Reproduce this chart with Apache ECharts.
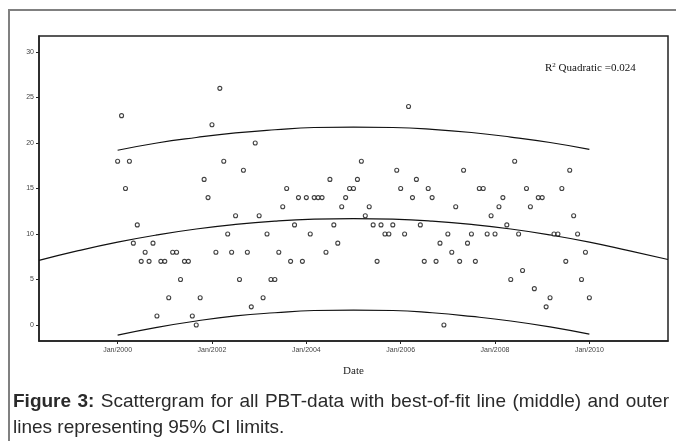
<!DOCTYPE html>
<html>
<head>
<meta charset="utf-8">
<script src="https://cdn.jsdelivr.net/npm/echarts@6/dist/echarts.min.js"></script>
<style>
  html, body { margin: 0; padding: 0; background: #fff; }
  #wrap { position: relative; width: 676px; height: 441px; overflow: hidden; }
  #frame {
    position: absolute; left: 8px; top: 9px; width: 700px; height: 500px;
    border-left: 2px solid #808080; border-top: 2px solid #808080;
  }
  #chart { position: absolute; left: 0; top: 0; width: 676px; height: 441px; }
  #caption {
    position: absolute; left: 13px; top: 388px; width: 656px;
    font-family: "Liberation Sans", Arial, sans-serif; font-size: 19px;
    line-height: 26px; color: #2a2a2a;
  }
  #caption .l1 { text-align: justify; text-align-last: justify; white-space: nowrap; }
</style>
</head>
<body>
<div id="wrap">
  <div id="frame"></div>
  <div id="chart"></div>
  <div id="caption">
    <div class="l1"><b>Figure 3:</b> Scattergram for all PBT-data with best-of-fit line (middle) and outer</div>
    <div>lines representing 95% CI limits.</div>
  </div>
</div>
<script>
// monthly PBT values, Jan/2000 .. Jan/2010 (x = months since Jan/2000)
var pbt = [
  18, 23, 15, 18, 9, 11, 7, 8, 7, 9, 1, 7,        // 2000
  7, 3, 8, 8, 5, 7, 7, 1, 0, 3, 16, 14,           // 2001
  22, 8, 26, 18, 10, 8, 12, 5, 17, 8, 2, 20,      // 2002
  12, 3, 10, 5, 5, 8, 13, 15, 7, 11, 14, 7,       // 2003
  14, 10, 14, 14, 14, 8, 16, 11, 9, 13, 14, 15,   // 2004
  15, 16, 18, 12, 13, 11, 7, 11, 10, 10, 11, 17,  // 2005
  15, 10, 24, 14, 16, 11, 7, 15, 14, 7, 9, 0,     // 2006
  10, 8, 13, 7, 17, 9, 10, 7, 15, 15, 10, 12,     // 2007
  10, 13, 14, 11, 5, 18, 10, 6, 15, 13, 4, 14,    // 2008
  14, 2, 3, 10, 10, 15, 7, 17, 12, 10, 5, 8,      // 2009
  3                                               // 2010
];

// fit lines
var fitMonths = [-20, -10, 0, 10, 20, 30, 40, 50, 60, 70, 80, 90, 100, 110, 120, 130, 140];
var fitMid    = [7.1, 8.17, 9.11, 9.9, 10.55, 11.05, 11.41, 11.63, 11.7, 11.63, 11.41, 11.05, 10.55, 9.9, 9.11, 8.17, 7.2];
var ciMonths  = [0, 10, 20, 30, 40, 50, 60, 70, 80, 90, 100, 110, 120];
var ciUpper   = [19.2, 20.0, 20.6, 21.1, 21.45, 21.7, 21.75, 21.7, 21.5, 21.15, 20.65, 20.05, 19.3];
var ciLower   = [-1.1, -0.25, 0.45, 1.0, 1.35, 1.6, 1.65, 1.6, 1.35, 0.95, 0.45, -0.2, -1.0];

var xTicks = [0, 24, 48, 72, 96, 120];
var yTicks = [0, 5, 10, 15, 20, 25, 30];

function pairs(xs, ys) {
  return xs.map(function (x, i) { return [x, ys[i]]; });
}

var chart = echarts.init(document.getElementById('chart'));

var lineStyle = { color: '#111', width: 1.2 };

var option = {
  animation: false,
  grid: {
    left: 39, top: 36, right: 8, bottom: 100,
    show: true, borderColor: '#222', borderWidth: 1.5, backgroundColor: 'transparent'
  },
  xAxis: {
    type: 'value',
    min: -20, max: 140,
    name: 'Date',
    nameLocation: 'middle',
    nameGap: 25,
    nameTextStyle: { fontFamily: 'Liberation Serif', fontSize: 11, color: '#222' },
    axisLine: { show: true, onZero: false, lineStyle: { color: '#222', width: 1.5 } },
    axisTick: { show: true, length: 3, customValues: xTicks, lineStyle: { color: '#222' } },
    axisLabel: {
      customValues: xTicks, margin: 6,
      fontFamily: 'Liberation Sans', fontSize: 7, color: '#444',
      formatter: function (v) { return 'Jan/' + (2000 + v / 12); }
    },
    splitLine: { show: false }
  },
  yAxis: {
    type: 'value',
    min: -1.75, max: 31.75,
    axisLine: { show: true, onZero: false, lineStyle: { color: '#222', width: 1.5 } },
    axisTick: { show: true, length: 3, customValues: yTicks, lineStyle: { color: '#222' } },
    axisLabel: {
      customValues: yTicks, margin: 5,
      fontFamily: 'Liberation Sans', fontSize: 7, color: '#444'
    },
    splitLine: { show: false }
  },
  graphic: [{
    type: 'text',
    left: 545, top: 62,
    style: {
      text: 'R{sup|2} Quadratic =0.024',
      fontFamily: 'Liberation Serif', fontSize: 11, fill: '#111',
      rich: { sup: { fontSize: 7, verticalAlign: 'top', padding: [0, 0, 5, 0], fontFamily: 'Liberation Serif' } }
    }
  }],
  series: [
    {
      type: 'line', data: pairs(fitMonths, fitMid), smooth: true,
      symbol: 'none', lineStyle: lineStyle, z: 1
    },
    {
      type: 'line', data: pairs(ciMonths, ciUpper), smooth: true,
      symbol: 'none', lineStyle: lineStyle, z: 1
    },
    {
      type: 'line', data: pairs(ciMonths, ciLower), smooth: true,
      symbol: 'none', lineStyle: lineStyle, z: 1
    },
    {
      type: 'scatter',
      data: pbt.map(function (v, i) { return [i, v]; }),
      symbol: 'circle', symbolSize: 4,
      itemStyle: { color: '#fff', borderColor: '#111', borderWidth: 1.1 },
      z: 2
    }
  ]
};

chart.setOption(option);
</script>
</body>
</html>
